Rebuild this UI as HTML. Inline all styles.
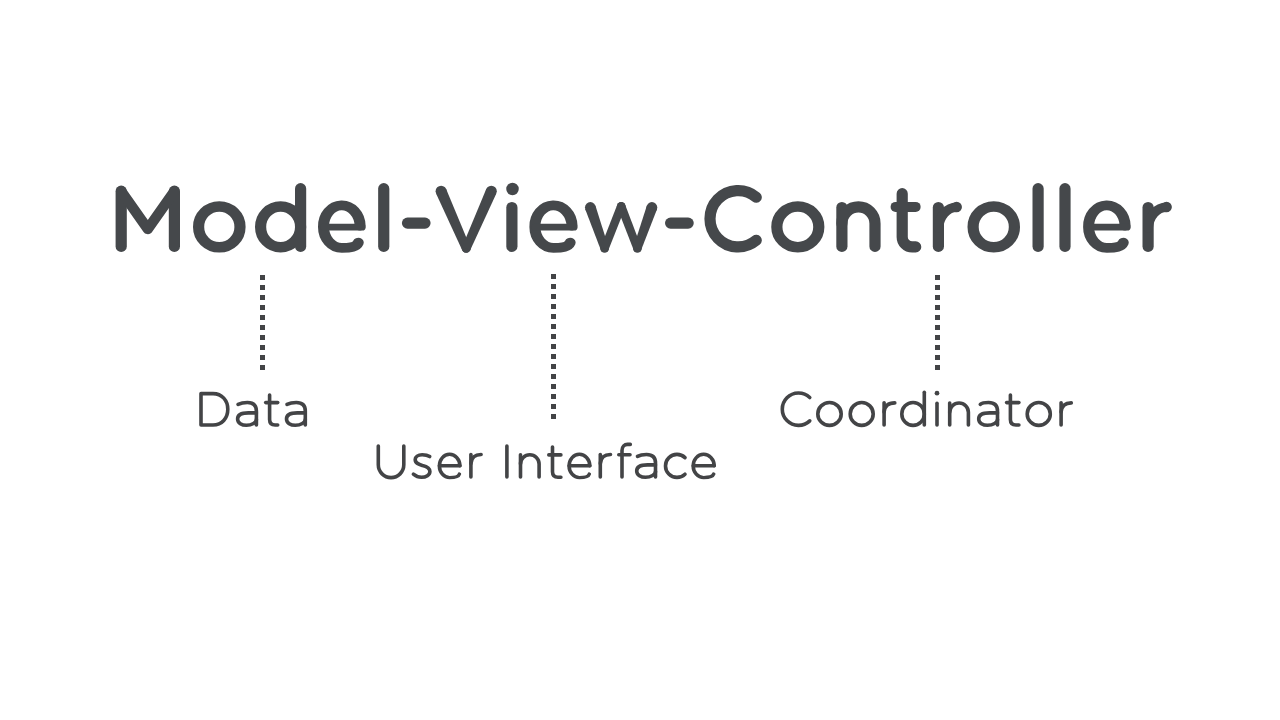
<!DOCTYPE html>
<html><head><meta charset="utf-8"><title>Model-View-Controller</title>
<style>
html,body{margin:0;padding:0;background:#fff;width:1280px;height:720px;overflow:hidden;font-family:"Liberation Sans",sans-serif;}
svg{position:absolute;left:0;top:0;}
</style></head><body>
<svg width="1280" height="720" viewBox="0 0 1280 720">
<g fill="none" stroke="#45484b" stroke-linecap="round" stroke-linejoin="round">
<path d="M121.2,191.2 L121.2,246.4" stroke-width="11.2"/>
<path d="M174.4,191.2 L174.4,246.4" stroke-width="11.2"/>
<path d="M121.2,191.2 L147.8,229 L174.4,191.2" stroke-width="10.4"/>
<path d="M198.6,226.88 A20.7,21.66 0 1 0 240,226.88 A20.7,21.66 0 1 0 198.6,226.88 Z" stroke-width="11.2" transform="translate(0 226.88) scale(1 0.94) translate(0 -226.88)"/>
<path d="M260.6,226.88 A20,21.66 0 1 0 300.6,226.88 A20,21.66 0 1 0 260.6,226.88 Z" stroke-width="11.2" transform="translate(0 226.88) scale(1 0.94) translate(0 -226.88)"/>
<path d="M300.6,188.7 L300.6,246.4" stroke-width="11.2"/>
<path d="M360.1,225.55 A18.3,23.82 0 0 0 323.5,226.9 A18.3,23.82 0 0 0 341.8,250.72 C350.95,250.72 356.44,249.77 358.27,244.76" stroke-width="11" transform="translate(0 226.9) scale(1 0.88) translate(0 -226.9)"/>
<path d="M323.5,227.15 L362.2,227.15" stroke-width="6.8"/>
<path d="M383.75,188.7 L383.75,246.4" stroke-width="11.2"/>
<path d="M407.5,223.1 L425,223.1" stroke-width="11.2"/>
<path d="M511.9,207.5 L511.9,246.4" stroke-width="11.2"/>
<path d="M572,225.55 A18.55,23.82 0 0 0 534.9,226.9 A18.55,23.82 0 0 0 553.45,250.72 C562.73,250.72 568.29,249.77 570.15,244.76" stroke-width="11" transform="translate(0 226.9) scale(1 0.88) translate(0 -226.9)"/>
<path d="M534.9,227.15 L574.1,227.15" stroke-width="6.8"/>
<path d="M670.6,223.1 L688.15,223.1" stroke-width="11.2"/>
<path d="M756.24,197.19 A28.15,28.15 0 1 0 756.24,240.31" stroke-width="11.2"/>
<path d="M776.85,226.88 A20.97,21.66 0 1 0 818.8,226.88 A20.97,21.66 0 1 0 776.85,226.88 Z" stroke-width="11.2" transform="translate(0 226.88) scale(1 0.94) translate(0 -226.88)"/>
<path d="M841.9,246.4 L841.9,207.5" stroke-width="11.2"/>
<path d="M841.9,223.4 A16.55,16.55 0 0 1 875,223.4 L875,246.4" stroke-width="11.2"/>
<path d="M902.2,193.7 L902.2,236.9 A10,10 0 0 0 912.2,246.9 L915.7,246.9" stroke-width="11.2"/>
<path d="M895.6,206.9 L915.65,206.9" stroke-width="10"/>
<path d="M938.4,207.5 L938.4,246.4" stroke-width="11.2"/>
<path d="M938.4,228 C939.5,216 947,207.2 956.6,207.2" stroke-width="9.6"/>
<path d="M973.1,226.88 A20.65,21.66 0 1 0 1014.4,226.88 A20.65,21.66 0 1 0 973.1,226.88 Z" stroke-width="11.2" transform="translate(0 226.88) scale(1 0.94) translate(0 -226.88)"/>
<path d="M1038.1,188.7 L1038.1,246.4" stroke-width="11.2"/>
<path d="M1065,188.7 L1065,246.4" stroke-width="11.2"/>
<path d="M1125.1,225.55 A18.25,23.82 0 0 0 1088.6,226.9 A18.25,23.82 0 0 0 1106.85,250.72 C1115.97,250.72 1121.45,249.77 1123.27,244.76" stroke-width="11" transform="translate(0 226.9) scale(1 0.88) translate(0 -226.9)"/>
<path d="M1088.6,227.15 L1127.2,227.15" stroke-width="6.8"/>
<path d="M1148.1,207.5 L1148.1,246.4" stroke-width="11.2"/>
<path d="M1148.1,228 C1149.2,216 1156.7,207.2 1166.5,207.2" stroke-width="9.6"/>
</g>
<g fill="none" stroke="#434446" stroke-linecap="round" stroke-linejoin="round">
<path d="M201,393.6 L213,393.6 C222,393.6 227.8,400.5 227.8,409.3 C227.8,418.1 222,425 213,425 L201,425 Z" stroke-width="3.6"/>
<path d="M238.1,404.4 C240.9,403 244.4,402.5 247.4,402.5 C253.4,402.5 256.4,405.5 256.4,411 L256.4,425" stroke-width="3.6"/>
<path d="M256.4,412.9 L248.4,412.9 C241.9,412.9 237.6,415 237.6,419 C237.6,423 241.9,425.3 246.4,425.3 C251.9,425.3 256.4,422.5 256.4,419.5" stroke-width="3.6"/>
<path d="M269.6,395 L269.6,419.5 C269.6,423 271.6,425 275.1,425 L277.7,425" stroke-width="3.6"/>
<path d="M265.7,402.6 L277.7,402.6" stroke-width="3.6"/>
<path d="M287,404.4 C289.8,403 293.3,402.5 296.3,402.5 C302.3,402.5 305.3,405.5 305.3,411 L305.3,425" stroke-width="3.6"/>
<path d="M305.3,412.9 L297.3,412.9 C290.8,412.9 286.5,415 286.5,419 C286.5,423 290.8,425.3 295.3,425.3 C300.8,425.3 305.3,422.5 305.3,419.5" stroke-width="3.6"/>
<path d="M809.75,397.55 A16.2,16.2 0 1 0 809.75,420.85" stroke-width="3.6"/>
<path d="M817.8,413.95 A11.7,11.45 0 1 0 841.2,413.95 A11.7,11.45 0 1 0 817.8,413.95 Z" stroke-width="3.6"/>
<path d="M850.2,413.95 A11.5,11.45 0 1 0 873.2,413.95 A11.5,11.45 0 1 0 850.2,413.95 Z" stroke-width="3.6"/>
<path d="M884.1,402.8 L884.1,425" stroke-width="3.6"/>
<path d="M884.1,411.9 C884.5,407.4 887.1,402.9 894.8,402.9" stroke-width="3.6"/>
<path d="M901.8,413.95 A11.25,11.45 0 1 0 924.3,413.95 A11.25,11.45 0 1 0 901.8,413.95 Z" stroke-width="3.6"/>
<path d="M924.3,392.3 L924.3,425" stroke-width="3.6"/>
<path d="M937,403.2 L937,425" stroke-width="3.6"/>
<path d="M949.7,403 L949.7,425" stroke-width="3.6"/>
<path d="M949.7,412.35 A9.35,9.35 0 0 1 968.4,412.35 L968.4,425" stroke-width="3.6"/>
<path d="M980.3,404.4 C982,403 985.5,402.5 988.5,402.5 C994.5,402.5 997.5,405.5 997.5,411 L997.5,425" stroke-width="3.6"/>
<path d="M997.5,412.9 L989.5,412.9 C983,412.9 978.7,415 978.7,419 C978.7,423 983,425.3 987.5,425.3 C993,425.3 997.5,422.5 997.5,419.5" stroke-width="3.6"/>
<path d="M1010.4,395 L1010.4,419.5 C1010.4,423 1012.4,425 1015.9,425 L1018.9,425" stroke-width="3.6"/>
<path d="M1006.6,402.6 L1018.9,402.6" stroke-width="3.6"/>
<path d="M1027.2,413.95 A11.55,11.45 0 1 0 1050.3,413.95 A11.55,11.45 0 1 0 1027.2,413.95 Z" stroke-width="3.6"/>
<path d="M1061.1,402.8 L1061.1,425" stroke-width="3.6"/>
<path d="M1061.1,411.9 C1061.5,407.4 1064.1,402.9 1071.3,402.9" stroke-width="3.6"/>
<path d="M378.3,446 L378.3,464.85 A12.75,12.75 0 0 0 403.8,464.85 L403.8,446" stroke-width="3.6"/>
<path d="M429.7,456.6 C427,454.8 425,454.8 422.2,454.8 C418,454.8 415.2,456.8 415.2,459.5 C415.2,463.5 419,464.5 422.5,465.5 C426.5,466.5 429.9,467.8 429.9,471.5 C429.9,475 426,477.3 421.5,477.3 C418,477.3 415.5,476 413.4,474.2" stroke-width="3.6"/>
<path d="M459.9,465.68 A10.25,12.2 0 0 0 439.4,466 A10.25,12.2 0 0 0 449.65,478.2 C455.29,478.2 458.67,476.98 459.39,474.54" stroke-width="3.6" transform="translate(0 466) scale(1 0.95) translate(0 -466)"/>
<path d="M439.4,465.7 L459.99,465.7" stroke-width="3.42"/>
<path d="M470.9,454.5 L470.9,477" stroke-width="3.6"/>
<path d="M470.9,463.5 C471.3,459 473.9,454.5 481.1,454.5" stroke-width="3.6"/>
<path d="M506.9,446 L506.9,477" stroke-width="3.6"/>
<path d="M520.5,454.8 L520.5,477" stroke-width="3.6"/>
<path d="M520.5,464.1 A9.3,9.3 0 0 1 539.1,464.1 L539.1,477" stroke-width="3.6"/>
<path d="M552.5,447.1 L552.5,471.7 C552.5,475.2 554.5,477.2 558,477.2 L560.9,477.2" stroke-width="3.6"/>
<path d="M548.8,454.9 L560.9,454.9" stroke-width="3.6"/>
<path d="M589.8,465.68 A10.35,12.2 0 0 0 569.1,466 A10.35,12.2 0 0 0 579.45,478.2 C585.14,478.2 588.56,476.98 589.28,474.54" stroke-width="3.6" transform="translate(0 466) scale(1 0.95) translate(0 -466)"/>
<path d="M569.1,465.7 L589.89,465.7" stroke-width="3.42"/>
<path d="M600.3,454.5 L600.3,477" stroke-width="3.6"/>
<path d="M600.3,463.5 C600.7,459 603.3,454.5 610.5,454.5" stroke-width="3.6"/>
<path d="M622,477 L622,450.5 C622,446.5 624.5,444.4 627.5,444.4 L630.3,444.4" stroke-width="3.6"/>
<path d="M618.8,454.8 L630,454.8" stroke-width="3.6"/>
<path d="M637.5,456.4 C640,455 643.5,454.5 646.5,454.5 C652.5,454.5 655.5,457.5 655.5,463 L655.5,477" stroke-width="3.6"/>
<path d="M655.5,464.9 L647.5,464.9 C641,464.9 636.7,467 636.7,471 C636.7,475 641,477.3 645.5,477.3 C651,477.3 655.5,474.5 655.5,471.5" stroke-width="3.6"/>
<path d="M684.99,457.63 A11.5,11.5 0 1 0 684.99,474.17" stroke-width="3.6"/>
<path d="M714.2,465.68 A10.5,12.2 0 0 0 693.2,466 A10.5,12.2 0 0 0 703.7,478.2 C709.48,478.2 712.94,476.98 713.68,474.54" stroke-width="3.6" transform="translate(0 466) scale(1 0.95) translate(0 -466)"/>
<path d="M693.2,465.7 L714.29,465.7" stroke-width="3.42"/>
</g>
<g fill="#45484b"><circle cx="441.1" cy="191.2" r="5.5"/><circle cx="466.2" cy="248.46" r="4.35"/><circle cx="466.2" cy="248.46" r="4.35"/><circle cx="491.3" cy="191.2" r="5.5"/><circle cx="512.5" cy="189" r="6.25"/><circle cx="590.35" cy="207.5" r="5.4"/><circle cx="604.6" cy="248.4" r="4.1"/><circle cx="604.6" cy="248.4" r="4.1"/><circle cx="621.2" cy="206.2" r="4.25"/><circle cx="621.2" cy="206.2" r="4.25"/><circle cx="637.4" cy="248.4" r="4.1"/><circle cx="637.4" cy="248.4" r="4.1"/><circle cx="651.9" cy="207.5" r="5.4"/><circle cx="956.6" cy="207" r="5.3"/><circle cx="1166.5" cy="207" r="5.3"/><polygon points="436.06,193.41 462.22,250.21 470.18,246.71 446.14,188.99"/><polygon points="470.18,250.21 496.34,193.41 486.26,188.99 462.22,246.71"/><polygon points="585.25,209.28 600.73,249.75 608.47,247.05 595.45,205.72"/><polygon points="608.42,249.9 625.16,207.76 617.24,204.64 600.78,246.9"/><polygon points="617.23,207.72 633.57,249.87 641.23,246.93 625.17,204.68"/><polygon points="641.26,249.77 656.99,209.3 646.81,205.7 633.54,247.03"/></g>
<g fill="#434446"><circle cx="937" cy="393.2" r="2.35"/></g>
<g fill="#434446"><rect x="260" y="275" width="5" height="5"/><rect x="260" y="285" width="5" height="5"/><rect x="260" y="295" width="5" height="5"/><rect x="260" y="305" width="5" height="5"/><rect x="260" y="315" width="5" height="5"/><rect x="260" y="325" width="5" height="5"/><rect x="260" y="335" width="5" height="5"/><rect x="260" y="345" width="5" height="5"/><rect x="260" y="355" width="5" height="5"/><rect x="260" y="365" width="5" height="5"/><rect x="551" y="274" width="5" height="5"/><rect x="551" y="284" width="5" height="5"/><rect x="551" y="294" width="5" height="5"/><rect x="551" y="304" width="5" height="5"/><rect x="551" y="314" width="5" height="5"/><rect x="551" y="324" width="5" height="5"/><rect x="551" y="334" width="5" height="5"/><rect x="551" y="344" width="5" height="5"/><rect x="551" y="354" width="5" height="5"/><rect x="551" y="364" width="5" height="5"/><rect x="551" y="374" width="5" height="5"/><rect x="551" y="384" width="5" height="5"/><rect x="551" y="394" width="5" height="5"/><rect x="551" y="404" width="5" height="5"/><rect x="551" y="414" width="5" height="5"/><rect x="935" y="275" width="5" height="5"/><rect x="935" y="285" width="5" height="5"/><rect x="935" y="295" width="5" height="5"/><rect x="935" y="305" width="5" height="5"/><rect x="935" y="315" width="5" height="5"/><rect x="935" y="325" width="5" height="5"/><rect x="935" y="335" width="5" height="5"/><rect x="935" y="345" width="5" height="5"/><rect x="935" y="355" width="5" height="5"/><rect x="935" y="365" width="5" height="5"/></g>
</svg>
</body></html>
